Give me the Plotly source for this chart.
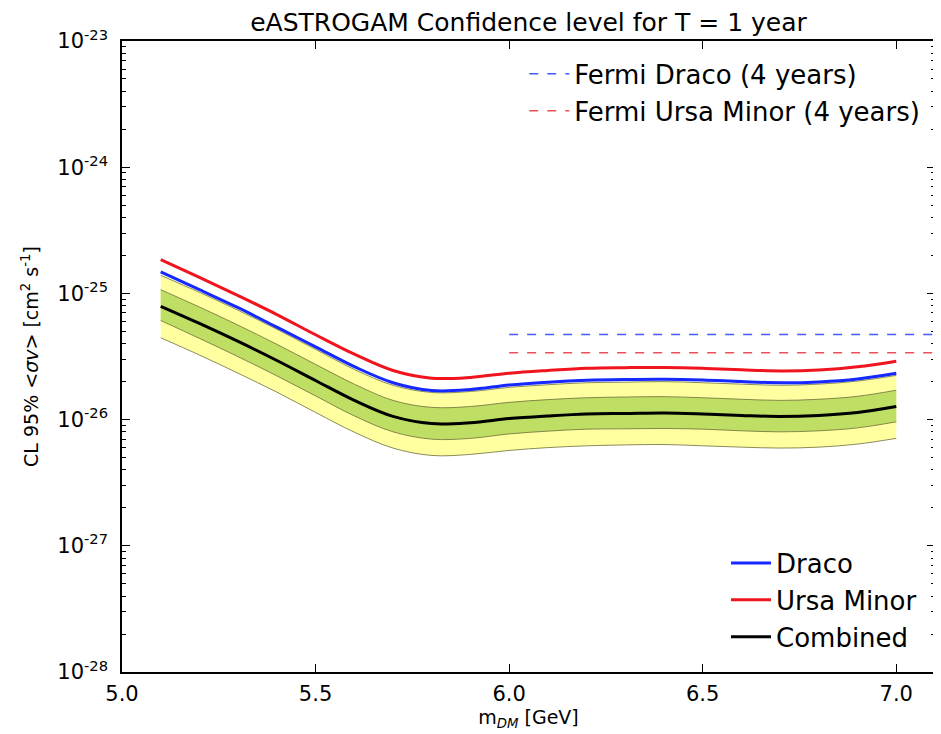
import plotly.graph_objects as go

# ---------------- data ----------------
mass = [5.1, 5.2, 5.3, 5.4, 5.5, 5.6, 5.7, 5.8, 5.9, 6.0,
        6.1, 6.2, 6.3, 6.4, 6.5, 6.6, 6.7, 6.8, 6.9, 7.0]

combined = [7.9e-26, 5.78e-26, 4.16e-26, 2.94e-26, 2.04e-26, 1.42e-26, 1.06e-26, 9.3e-27, 9.45e-27, 1.02e-26,
            1.07e-26, 1.11e-26, 1.12e-26, 1.13e-26, 1.11e-26, 1.08e-26, 1.06e-26, 1.08e-26, 1.14e-26, 1.27e-26]

draco = [1.48e-25, 1.07e-25, 7.7e-26, 5.4e-26, 3.77e-26, 2.63e-26, 1.96e-26, 1.70e-26, 1.73e-26, 1.88e-26,
         1.98e-26, 2.05e-26, 2.08e-26, 2.09e-26, 2.06e-26, 2.00e-26, 1.96e-26, 1.99e-26, 2.10e-26, 2.33e-26]

ursa_minor = [1.85e-25, 1.34e-25, 9.6e-26, 6.8e-26, 4.7e-26, 3.3e-26, 2.45e-26, 2.13e-26, 2.16e-26, 2.33e-26,
              2.45e-26, 2.55e-26, 2.58e-26, 2.59e-26, 2.55e-26, 2.48e-26, 2.43e-26, 2.47e-26, 2.62e-26, 2.90e-26]

band1_low = [6.1e-26, 4.4e-26, 3.15e-26, 2.22e-26, 1.54e-26, 1.07e-26, 8.0e-27, 7.0e-27, 7.1e-27, 7.7e-27,
             8.1e-27, 8.4e-27, 8.45e-27, 8.5e-27, 8.4e-27, 8.15e-27, 8.0e-27, 8.15e-27, 8.6e-27, 9.6e-27]
band1_high = [1.07e-25, 7.8e-26, 5.6e-26, 3.95e-26, 2.74e-26, 1.91e-26, 1.42e-26, 1.25e-26, 1.27e-26, 1.37e-26,
              1.44e-26, 1.49e-26, 1.51e-26, 1.52e-26, 1.49e-26, 1.45e-26, 1.42e-26, 1.45e-26, 1.53e-26, 1.71e-26]
band2_low = [4.45e-26, 3.25e-26, 2.33e-26, 1.65e-26, 1.14e-26, 7.95e-27, 5.95e-27, 5.2e-27, 5.3e-27, 5.7e-27,
             6.0e-27, 6.2e-27, 6.3e-27, 6.35e-27, 6.2e-27, 6.05e-27, 5.95e-27, 6.05e-27, 6.4e-27, 7.1e-27]
band2_high = [1.39e-25, 1.02e-25, 7.35e-26, 5.2e-26, 3.6e-26, 2.5e-26, 1.87e-26, 1.64e-26, 1.67e-26, 1.80e-26,
              1.89e-26, 1.96e-26, 1.98e-26, 2.0e-26, 1.96e-26, 1.91e-26, 1.87e-26, 1.91e-26, 2.02e-26, 2.24e-26]

fermi_x = [6.0, 7.1]
fermi_draco = [4.73e-26, 4.73e-26]
fermi_ursa = [3.38e-26, 3.38e-26]

y_tickvals = [1e-28, 1e-27, 1e-26, 1e-25, 1e-24, 1e-23]
y_ticktext = ["10<sup>-28</sup>", "10<sup>-27</sup>", "10<sup>-26</sup>",
              "10<sup>-25</sup>", "10<sup>-24</sup>", "10<sup>-23</sup>"]
x_tickvals = [5.0, 5.5, 6.0, 6.5, 7.0]
x_ticktext = ["5.0", "5.5", "6.0", "6.5", "7.0"]

# ---------------- figure ----------------
FONT = "DejaVu Sans"
edge = dict(color="rgba(110,110,60,0.8)", width=1, shape="spline")

fig = go.Figure()

# yellow (2 sigma) band
fig.add_trace(go.Scatter(x=mass, y=band2_low, mode="lines", line=edge,
                         showlegend=False, hoverinfo="skip"))
fig.add_trace(go.Scatter(x=mass, y=band2_high, mode="lines", line=edge,
                         fill="tonexty", fillcolor="rgb(255,255,160)",
                         showlegend=False, hoverinfo="skip"))
# green (1 sigma) band
fig.add_trace(go.Scatter(x=mass, y=band1_low, mode="lines", line=edge,
                         showlegend=False, hoverinfo="skip"))
fig.add_trace(go.Scatter(x=mass, y=band1_high, mode="lines", line=edge,
                         fill="tonexty", fillcolor="rgb(190,222,100)",
                         showlegend=False, hoverinfo="skip"))

# Fermi dashed limits
fig.add_trace(go.Scatter(x=fermi_x, y=fermi_draco, mode="lines",
                         line=dict(color="rgb(70,90,255)", width=1.5, dash="dash"),
                         name="Fermi Draco (4 years)", legend="legend", legendgroup="fd"))
fig.add_trace(go.Scatter(x=fermi_x, y=fermi_ursa, mode="lines",
                         line=dict(color="rgb(235,80,90)", width=1.5, dash="dash"),
                         name="Fermi Ursa Minor (4 years)", legend="legend", legendgroup="fu"))

# curves
fig.add_trace(go.Scatter(x=mass, y=draco, mode="lines",
                         line=dict(color="rgb(20,40,255)", width=3, shape="spline"),
                         name="Draco", legend="legend2", legendgroup="d"))
fig.add_trace(go.Scatter(x=mass, y=ursa_minor, mode="lines",
                         line=dict(color="rgb(240,20,30)", width=3, shape="spline"),
                         name="Ursa Minor", legend="legend2", legendgroup="u"))
fig.add_trace(go.Scatter(x=mass, y=combined, mode="lines",
                         line=dict(color="black", width=3, shape="spline"),
                         name="Combined", legend="legend2", legendgroup="c"))

axis_common = dict(showline=True, linecolor="black", linewidth=1.5, mirror="ticks",
                   ticks="inside", tickcolor="black", showgrid=False, zeroline=False,
                   tickfont=dict(family=FONT, size=21, color="black"))

# page body has an 8px margin: figure is sized/margined so the plot area sits at
# x 122..937, y 41..672 of the 941x734 window
fig.update_layout(
    width=933, height=726,
    margin=dict(l=114, r=4, t=33, b=62),
    paper_bgcolor="white", plot_bgcolor="white",
    font=dict(family=FONT, color="black"),
    title=dict(text="eASTROGAM Confidence level for T = 1 year",
               x=0.5, xanchor="center", xref="paper", y=0.981, yanchor="middle",
               font=dict(family=FONT, size=25, color="black")),
    xaxis=dict(range=[5.0, 7.1], tickvals=x_tickvals, ticktext=x_ticktext, ticklen=8,
               ticklabelstandoff=2,
               title=dict(text="m<sub><i>DM</i></sub> [GeV]", standoff=4,
                          font=dict(family=FONT, size=19, color="black")),
               **axis_common),
    yaxis=dict(type="log", range=[-28, -23], tickvals=y_tickvals, ticktext=y_ticktext,
               ticklen=8, ticklabelstandoff=8,
               minor=dict(ticks="inside", ticklen=4, tickcolor="black",
                          tickvals=[m * 10.0 ** e for e in range(-28, -23) for m in range(2, 10)]),
               title=dict(text="CL 95% <i>&lt;σv&gt;</i> [cm<sup>2</sup> s<sup>-1</sup>]", standoff=14,
                          font=dict(family=FONT, size=19, color="black")),
               **axis_common),
    legend=dict(x=0.988, y=0.985, xanchor="right", yanchor="top", traceorder="normal",
                bgcolor="rgba(0,0,0,0)", font=dict(family=FONT, size=26, color="black"),
                itemwidth=40, tracegroupgap=4),
    legend2=dict(x=0.984, y=0.018, xanchor="right", yanchor="bottom", traceorder="normal",
                 bgcolor="rgba(0,0,0,0)", font=dict(family=FONT, size=26, color="black"),
                 itemwidth=40, tracegroupgap=7),
)

fig.write_html("out.html")
